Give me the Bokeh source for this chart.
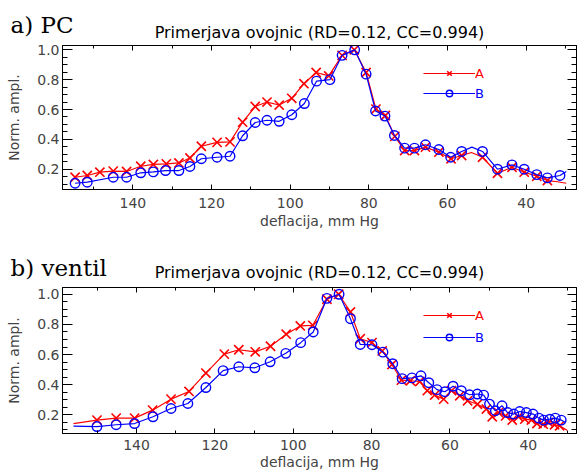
from bokeh.plotting import figure
from bokeh.models import (Range1d, LinearAxis, SingleIntervalTicker, PrintfTickFormatter,
                          CustomJSTickFormatter, Legend, LegendItem)
from bokeh.core.properties import value
from bokeh.layouts import column
from bokeh.embed import file_html
from bokeh.resources import INLINE

# ---------------- data ----------------
title_text = "Primerjava ovojnic (RD=0.12, CC=0.994)"
x_label = "deflacija, mm Hg"
y_label = "Norm. ampl."
panel_names = ["a) PC", "b) ventil"]
series_names = ["A", "B"]

# panel a) PC
a_pc_x = [154.7, 151.6, 148.4, 145.0, 141.6, 138.0, 134.8, 131.5, 128.3, 125.5,
          122.6, 118.6, 115.3, 112.1, 108.9, 105.9, 102.8, 99.6, 96.5, 93.4,
          90.2, 86.8, 83.7, 80.7, 78.2, 75.8, 73.4, 70.9, 68.4, 65.6,
          62.2, 59.1, 56.4, 51.1, 47.3, 43.6, 40.5, 37.3, 34.6]
a_pc_y = [0.146, 0.158, 0.180, 0.187, 0.185, 0.220, 0.232, 0.236, 0.242, 0.275,
          0.354, 0.380, 0.383, 0.515, 0.620, 0.650, 0.630, 0.675, 0.773, 0.848,
          0.825, 0.963, 1.000, 0.848, 0.603, 0.560, 0.420, 0.325, 0.325, 0.348,
          0.314, 0.270, 0.292, 0.280, 0.173, 0.213, 0.180, 0.153, 0.124]
b_pc_x = [154.7, 151.6, 145.0, 141.6, 138.0, 134.8, 131.7, 128.3, 125.5, 122.6,
          118.6, 115.3, 112.1, 108.9, 105.9, 102.8, 99.6, 96.4, 93.3, 89.9,
          86.8, 83.6, 80.7, 78.3, 75.9, 73.5, 70.9, 68.4, 65.6, 62.2,
          59.2, 56.4, 51.1, 47.3, 43.6, 40.5, 37.3, 34.6, 31.4]
b_pc_y = [0.106, 0.113, 0.146, 0.146, 0.176, 0.182, 0.191, 0.191, 0.218, 0.270,
          0.280, 0.287, 0.424, 0.513, 0.528, 0.521, 0.565, 0.640, 0.790, 0.800,
          0.963, 1.000, 0.837, 0.590, 0.556, 0.426, 0.341, 0.341, 0.364, 0.332,
          0.280, 0.319, 0.319, 0.200, 0.229, 0.200, 0.164, 0.142, 0.158]
# extra points of the continuous envelope curves (between / beyond markers)
a_pc_curve_x = [53.9, 32.0, 29.8]
a_pc_curve_y = [0.312, 0.116, 0.106]
b_pc_curve_x = [53.8, 29.8]
b_pc_curve_y = [0.348, 0.185]

# panel b) ventil
a_ve_x = [150.1, 145.2, 140.5, 135.9, 131.2, 126.6, 122.3, 117.6, 113.9, 109.7,
          105.8, 101.8, 98.2, 95.0, 91.4, 88.4, 85.4, 82.9, 79.9, 77.3,
          74.8, 72.4, 70.1, 67.7, 65.8, 63.9, 61.6, 59.6, 57.5, 55.5,
          53.0, 50.7, 49.2, 47.6, 45.8, 44.1, 42.5, 40.9, 39.2, 37.8,
          36.2, 34.8, 33.3, 32.0]
a_ve_y = [0.165, 0.178, 0.178, 0.231, 0.304, 0.355, 0.477, 0.603, 0.632, 0.618,
          0.655, 0.735, 0.790, 0.794, 0.967, 1.000, 0.883, 0.705, 0.679, 0.624,
          0.534, 0.430, 0.426, 0.421, 0.360, 0.331, 0.304, 0.360, 0.326, 0.293,
          0.270, 0.238, 0.187, 0.215, 0.193, 0.165, 0.187, 0.171, 0.165, 0.142,
          0.138, 0.149, 0.134, 0.127]
b_ve_x = [150.1, 145.2, 140.5, 135.8, 131.2, 126.9, 122.3, 117.9, 113.9, 109.8,
          105.9, 101.9, 98.1, 94.9, 91.4, 88.3, 85.4, 82.9, 79.9, 77.1,
          74.6, 72.2, 69.7, 67.4, 65.4, 63.3, 61.3, 59.2, 57.1, 55.0,
          53.0, 51.4, 49.9, 48.4, 46.7, 45.3, 43.7, 42.2, 40.5, 38.8,
          37.3, 36.1, 34.5, 33.1, 31.6]
b_ve_y = [0.122, 0.134, 0.142, 0.187, 0.242, 0.275, 0.381, 0.493, 0.519, 0.512,
          0.552, 0.608, 0.679, 0.750, 0.973, 1.000, 0.838, 0.667, 0.665, 0.616,
          0.539, 0.440, 0.445, 0.459, 0.413, 0.367, 0.353, 0.390, 0.360, 0.333,
          0.338, 0.331, 0.271, 0.227, 0.260, 0.215, 0.205, 0.222, 0.215, 0.205,
          0.178, 0.165, 0.171, 0.178, 0.165]
a_ve_curve_x = [156.1, 30.1]
a_ve_curve_y = [0.142, 0.098]
b_ve_curve_x = [156.1, 30.5]
b_ve_curve_y = [0.125, 0.149]

# axis ranges
pc_xrange = (157.9, 27.2)
pc_yrange = (0.064, 1.029)
ve_xrange = (158.9, 27.7)
ve_yrange = (0.076, 1.045)

# ---------------- style ----------------
FONT = "DejaVu Sans"
SERIF = "DejaVu Serif"
RED = "#ff0000"
BLUE = "#0000ff"
W = 577


def curve(xm, ym, xe, ye):
    pts = sorted(zip(list(xm) + list(xe), list(ym) + list(ye)), key=lambda t: -t[0])
    return [t[0] for t in pts], [t[1] for t in pts]


def make_header(name, h, name_pos, title_pos):
    # a strip above each panel holding the panel name and the title (pixel coordinates)
    hp = figure(width=W, height=h, x_range=Range1d(0, W), y_range=Range1d(h, 0),
                title=None, output_backend="svg", toolbar_location=None,
                x_axis_location=None, y_axis_location=None, min_border=0)
    try:
        hp.frame_align = False
    except Exception:
        pass
    hp.outline_line_color = None
    hp.xgrid.visible = False
    hp.ygrid.visible = False
    hp.text(x=[10], y=[name_pos], text=[name], text_font=value(SERIF),
            text_font_size=value("23px"), text_baseline="alphabetic",
            text_align="left", text_color="black")
    hp.text(x=[319], y=[title_pos], text=[title_text], text_font=value(FONT),
            text_font_size=value("16px"), text_baseline="alphabetic",
            text_align="center", text_color="black")
    return hp


def make_panel(xr, yr, ax, ay, acx, acy, bx, by, bcx, bcy,
               height, btop, bbot, lab_standoff, axl_standoff, leg_a_y, leg_b_y):
    p = figure(width=W, height=height, x_range=Range1d(*xr), y_range=Range1d(*yr),
               title=None, output_backend="svg", toolbar_location=None,
               min_border_left=62, min_border_right=1,
               min_border_top=btop, min_border_bottom=bbot)
    p.xgrid.visible = False
    p.ygrid.visible = False
    p.outline_line_color = "black"

    xt = SingleIntervalTicker(interval=20, num_minor_ticks=2)
    yt = SingleIntervalTicker(interval=0.2, num_minor_ticks=4)

    xa = p.xaxis[0]
    xa.ticker = xt
    xa.axis_label = x_label
    xa.axis_label_text_font = FONT
    xa.axis_label_text_font_size = "14px"
    xa.axis_label_text_font_style = "normal"
    xa.axis_label_standoff = axl_standoff
    xa.major_label_text_font = FONT
    xa.major_label_text_font_size = "14px"
    xa.major_label_standoff = lab_standoff
    xa.major_tick_in = 5
    xa.major_tick_out = 0
    xa.minor_tick_in = 3
    xa.minor_tick_out = 0

    ya = p.yaxis[0]
    ya.ticker = yt
    ya.formatter = PrintfTickFormatter(format="%.1f")
    ya.axis_label = y_label
    ya.axis_label_text_font = FONT
    ya.axis_label_text_font_size = "14px"
    ya.axis_label_text_font_style = "normal"
    ya.axis_label_standoff = 12
    ya.major_label_text_font = FONT
    ya.major_label_text_font_size = "14px"
    ya.major_label_standoff = 3
    ya.major_tick_in = 10
    ya.major_tick_out = 0
    ya.minor_tick_in = 5
    ya.minor_tick_out = 0

    blank = CustomJSTickFormatter(code="return ''")
    top = LinearAxis(ticker=xt, formatter=blank, major_label_text_font_size="1px",
                     major_label_standoff=0, major_tick_in=5, major_tick_out=0,
                     minor_tick_in=3, minor_tick_out=0)
    right = LinearAxis(ticker=yt, formatter=blank, major_label_text_font_size="1px",
                       major_label_standoff=0, major_tick_in=9, major_tick_out=0,
                       minor_tick_in=5, minor_tick_out=0)
    p.add_layout(top, "above")
    p.add_layout(right, "right")

    lax, lay = curve(ax, ay, acx, acy)
    lbx, lby = curve(bx, by, bcx, bcy)
    la = p.line(lax, lay, line_color=RED, line_width=1.2)
    sa = p.scatter(ax, ay, marker="x", size=13, line_color=RED, line_width=1.6)
    lb = p.line(lbx, lby, line_color=BLUE, line_width=1.2)
    sb = p.scatter(bx, by, marker="circle", size=9.5, fill_color=None,
                   line_color=BLUE, line_width=1.4)

    for lbl, rs, col, ly in [(series_names[0], [la, sa], RED, leg_a_y),
                             (series_names[1], [lb, sb], BLUE, leg_b_y)]:
        lg = Legend(items=[LegendItem(label=value(lbl), renderers=rs)],
                    location=(361, ly), orientation="vertical",
                    glyph_width=52, glyph_height=16, label_height=16,
                    label_standoff=0, padding=0, margin=0, spacing=0,
                    border_line_color=None, background_fill_alpha=0,
                    label_text_color=col, label_text_font=FONT,
                    label_text_font_size="13px", label_text_baseline="alphabetic")
        p.add_layout(lg)
    return p


h1 = make_header(panel_names[0], 43, 24.5, 32.2)
p1 = make_panel(pc_xrange, pc_yrange,
                a_pc_x, a_pc_y, a_pc_curve_x, a_pc_curve_y,
                b_pc_x, b_pc_y, b_pc_curve_x, b_pc_curve_y,
                height=200, btop=2, bbot=54, lab_standoff=8, axl_standoff=2,
                leg_a_y=108, leg_b_y=88)
h2 = make_header(panel_names[1], 39, 24.0, 29.0)
p2 = make_panel(ve_xrange, ve_yrange,
                a_ve_x, a_ve_y, a_ve_curve_x, a_ve_curve_y,
                b_ve_x, b_ve_y, b_ve_curve_x, b_ve_curve_y,
                height=190, btop=5, bbot=39, lab_standoff=6, axl_standoff=1,
                leg_a_y=110, leg_b_y=88)

layout = column(column(h1, spacing=0), p1, column(h2, spacing=0), p2, spacing=0)
open("out.html", "w").write(file_html(layout, INLINE))
